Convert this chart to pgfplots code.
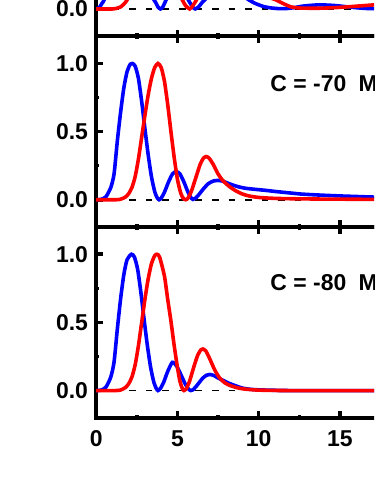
\documentclass[border=0pt]{standalone}
\usepackage{fontspec}
\setmainfont{Liberation Sans}
\usepackage{pgfplots}
\pgfplotsset{compat=1.18}

% top panel (only its lower edge is in view)
\pgfplotstableread{
x y
0 0
0.2 0.012
0.35 0.04
0.5 0.07
0.8 0.2
1.2 0.55
1.6 0.88
2.0 1.0
2.4 0.88
2.8 0.55
3.2 0.22
3.5 0.08
3.65 0.05
3.8 0.015
3.95 0.0
4.1 0.015
4.3 0.066
4.6 0.14
5.0 0.18
5.4 0.12
5.6 0.08
5.8 0.04
5.95 0.012
6.1 0.0
6.3 0.015
6.5 0.045
6.7 0.07
7.2 0.12
7.8 0.15
8.4 0.14
9.0 0.1
9.4 0.066
9.8 0.04
10.3 0.018
10.8 0.007
11.3 0.002
11.7 0.003
12.2 0.01
12.8 0.022
13.7 0.03
14.6 0.026
15.5 0.015
16.3 0.006
17.0 0.002
17.6 0.004
18.5 0.012
20 0.02
}\blueA
\pgfplotstableread{
x y
0 0
1.0 0.0
1.2 0.003
1.5 0.015
1.7 0.035
1.9 0.066
2.2 0.15
2.6 0.4
3.0 0.75
3.4 0.98
3.6 1.0
3.9 0.93
4.3 0.65
4.7 0.33
5.0 0.14
5.3 0.066
5.5 0.025
5.75 0.0
5.95 0.025
6.17 0.066
6.5 0.14
7.0 0.24
7.5 0.28
8.0 0.27
8.8 0.2
9.6 0.14
10.4 0.095
11.07 0.066
11.5 0.04
12.0 0.015
12.5 0.007
13.5 0.005
14.4 0.008
15.3 0.014
16.2 0.022
17.1 0.03
18.5 0.04
20 0.045
}\redA

% C = -70
\pgfplotstableread{
x y
0 0
0.3 0.003
0.6 0.022
0.9 0.09
1.1 0.19
1.3 0.43
1.5 0.64
1.7 0.82
1.9 0.94
2.1 0.995
2.23 1.0
2.4 0.98
2.6 0.89
2.8 0.72
3.0 0.52
3.2 0.33
3.4 0.17
3.6 0.06
3.75 0.015
3.87 0.0
4.0 0.012
4.2 0.055
4.45 0.13
4.7 0.19
4.93 0.207
5.15 0.19
5.4 0.13
5.6 0.07
5.8 0.02
5.95 0.003
6.1 0.01
6.3 0.035
6.6 0.08
6.9 0.118
7.2 0.137
7.5 0.142
7.8 0.136
8.2 0.117
8.7 0.097
9.2 0.084
10 0.074
10.5 0.068
11 0.061
12 0.049
12.6 0.042
13 0.039
14 0.033
15 0.028
16 0.024
17 0.02
18 0.017
20 0.013
}\blueB
\pgfplotstableread{
x y
0 0
1.2 0.0
1.5 0.004
1.8 0.02
2.0 0.045
2.2 0.09
2.4 0.17
2.6 0.3
2.8 0.46
3.0 0.62
3.2 0.77
3.4 0.89
3.6 0.97
3.8 1.0
4.0 0.97
4.2 0.87
4.4 0.70
4.6 0.50
4.8 0.31
5.0 0.15
5.2 0.05
5.35 0.012
5.5 0.0
5.65 0.012
5.85 0.06
6.1 0.15
6.4 0.26
6.6 0.305
6.77 0.317
6.95 0.305
7.2 0.26
7.5 0.19
7.8 0.14
8.2 0.097
8.6 0.065
9.0 0.042
9.4 0.028
10 0.017
11 0.01
12.3 0.007
14 0.005
17 0.003
20 0.002
}\redB

% C = -80
\pgfplotstableread{
x y
0 0
0.3 0.003
0.6 0.025
0.9 0.1
1.1 0.21
1.3 0.45
1.5 0.67
1.7 0.85
1.9 0.96
2.17 1.0
2.35 0.98
2.55 0.89
2.75 0.72
2.95 0.52
3.15 0.33
3.35 0.17
3.55 0.06
3.7 0.015
3.8 0.0
3.95 0.015
4.15 0.06
4.4 0.14
4.69 0.207
4.95 0.18
5.2 0.12
5.45 0.055
5.65 0.015
5.82 0.0
6.0 0.01
6.25 0.045
6.55 0.09
6.8 0.113
7.0 0.118
7.25 0.11
7.5 0.092
7.8 0.075
8.2 0.052
8.6 0.034
9.0 0.018
9.5 0.009
10 0.005
11 0.002
12 0.0
20 0.0
}\blueC
\pgfplotstableread{
x y
0 0
1.2 0
1.5 0.004
1.8 0.022
2.0 0.05
2.2 0.1
2.4 0.19
2.6 0.33
2.8 0.5
3.0 0.67
3.2 0.82
3.4 0.93
3.6 0.99
3.74 1.0
3.9 0.98
4.2 0.84
4.4 0.67
4.6 0.51
4.8 0.33
5.0 0.17
5.15 0.07
5.3 0.015
5.4 0.0
5.55 0.015
5.75 0.07
6.0 0.17
6.25 0.26
6.45 0.3
6.57 0.305
6.75 0.29
7.0 0.23
7.3 0.15
7.6 0.092
7.9 0.058
8.2 0.039
8.6 0.023
9.0 0.013
9.5 0.007
10 0.003
11 0.001
12 0
20 0
}\redC

\pgfplotsset{
  panel/.style={
    scale only axis, width=163pt, height=95.7pt,
    xmin=0, xmax=20, ymin=-0.2, ymax=1.2,
    axis line style={line width=2.1pt},
    xtick={0,5,10,15,20}, minor xtick={2.5,7.5,12.5,17.5},
    ytick={0,0.5,1}, minor ytick={0.25,0.75},
    tick align=inside, xtick pos=both, ytick pos=left,
    major tick length=3.3pt, minor tick length=1.6pt,
    tick style={black, line width=1.8pt},
    /pgf/number format/assume math mode=true,
    ticklabel style={font=\bfseries\fontsize{11.5}{13}\selectfont},
    yticklabel style={xshift=-0.6pt, /pgf/number format/fixed,
      /pgf/number format/fixed zerofill, /pgf/number format/precision=1},
    xticklabel style={yshift=-3pt},
  },
  curve/.style={line width=1.8pt, smooth, tension=0.4},
  zero/.style={black, line width=0.8pt, dash pattern=on 3.3pt off 5pt},
}

\begin{document}
\begin{tikzpicture}
\path[use as bounding box] (-48.25pt,-33.2pt) rectangle (139.35pt,209.57pt);
\clip (-48.25pt,-33.2pt) rectangle (139.35pt,209.57pt);

\begin{axis}[panel, at={(0pt,191.4pt)}, anchor=south west, xticklabels={}]
\addplot[zero] coordinates {(0,0) (20,0)};
\addplot[curve, blue] table {\blueA};
\addplot[curve, red] table {\redA};
\end{axis}

\begin{axis}[panel, at={(0pt,95.7pt)}, anchor=south west, xticklabels={}]
\addplot[zero] coordinates {(0,0) (20,0)};
\addplot[curve, blue] table {\blueB};
\addplot[curve, red] table {\redB};
\node[anchor=west, inner sep=0pt, font=\bfseries\fontsize{11.5}{13}\selectfont]
  at (axis cs:10.7,0.849) {C = -70\hspace{3pt} MeV};
\end{axis}

\begin{axis}[panel, at={(0pt,0pt)}, anchor=south west]
\addplot[zero] coordinates {(0,0) (20,0)};
\addplot[curve, blue] table {\blueC};
\addplot[curve, red] table {\redC};
\node[anchor=west, inner sep=0pt, font=\bfseries\fontsize{11.5}{13}\selectfont]
  at (axis cs:10.7,0.792) {C = -80\hspace{3pt} MeV};
\end{axis}
\end{tikzpicture}
\end{document}
